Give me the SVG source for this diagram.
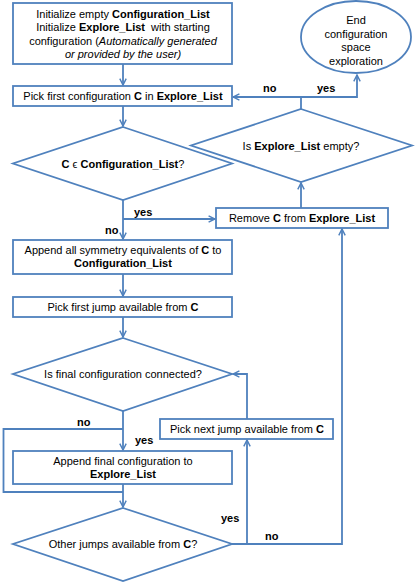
<svg xmlns="http://www.w3.org/2000/svg" width="415" height="585" viewBox="0 0 415 585">
<defs>
<marker id="ah" viewBox="0 0 10 10" refX="9" refY="5" markerWidth="8" markerHeight="8" markerUnits="userSpaceOnUse" orient="auto">
<path d="M1,1 L9,5 L1,9" fill="none" stroke="#4F81BD" stroke-width="1.8"/>
</marker>
<style>
.n{fill:#fff;stroke:#4F81BD;stroke-width:1.8}
.c{fill:none;stroke:#4F81BD;stroke-width:1.8}
.a{marker-end:url(#ah)}
text{font-family:"Liberation Sans",Arial,sans-serif;font-size:11px;fill:#000}
.m{text-anchor:middle}
.b{font-weight:bold}
.i{font-style:italic}
</style>
</defs>
<rect width="415" height="585" fill="#fff"/>
<g id="connectors">
<line class="c a" x1="123" y1="64" x2="123" y2="85"/>
<line class="c a" x1="123" y1="106" x2="123" y2="126"/>
<polyline class="c a" points="301,109 301,97 233,97"/>
<polyline class="c a" points="301,97 357,97 357,75"/>
<line class="c" x1="123" y1="200" x2="123" y2="219"/>
<line class="c a" x1="123" y1="219" x2="123" y2="239"/>
<line class="c a" x1="123" y1="219" x2="215" y2="219"/>
<line class="c a" x1="301" y1="208" x2="301" y2="183"/>
<line class="c a" x1="123" y1="274" x2="123" y2="296"/>
<line class="c a" x1="123" y1="317" x2="123" y2="337"/>
<polyline class="c a" points="247,419 247,374 233,374"/>
<line class="c" x1="123" y1="411" x2="123" y2="429"/>
<line class="c a" x1="123" y1="429" x2="123" y2="450"/>
<polyline class="c" points="123,429 3.5,429 3.5,492 123,492"/>
<line class="c a" x1="123" y1="484" x2="123" y2="507"/>
<polyline class="c a" points="232,544 247,544 247,440"/>
<polyline class="c a" points="247,544 342,544 342,229"/>
<text class="b" x="263" y="92">no</text>
<text class="b" x="317" y="92">yes</text>
<text class="b" x="134" y="216">yes</text>
<text class="b" x="105" y="234">no</text>
<text class="b" x="77" y="426">no</text>
<text class="b" x="135" y="444">yes</text>
<text class="b" x="221" y="522">yes</text>
<text class="b" x="265" y="540">no</text>
</g>
<g id="init">
<rect class="n" x="13" y="3" width="219" height="61"/>
<text class="m" x="123" y="18">Initialize empty <tspan class="b">Configuration_List</tspan></text>
<text class="m" x="123" y="31">Initialize <tspan class="b">Explore_List</tspan>&#160; with starting</text>
<text class="m" x="123" y="45">configuration (<tspan class="i">Automatically generated</tspan></text>
<text class="m i" x="123" y="58">or provided by the user)</text>
</g>
<g id="end">
<ellipse class="n" cx="356" cy="37" rx="55" ry="36"/>
<text class="m" x="356" y="24">End</text>
<text class="m" x="356" y="37.5">configuration</text>
<text class="m" x="356" y="51">space</text>
<text class="m" x="356" y="64.5">exploration</text>
</g>
<g id="pickfirst">
<rect class="n" x="13" y="86" width="219" height="20"/>
<text class="m" x="123" y="100">Pick first configuration <tspan class="b">C</tspan> in <tspan class="b">Explore_List</tspan></text>
</g>
<g id="empty">
<polygon class="n" points="301,109 412,145.5 301,182 191,145.5"/>
<text class="m" x="301" y="149.5">Is <tspan class="b">Explore_List</tspan> empty?</text>
</g>
<g id="inlist">
<polygon class="n" points="123,127 232,163.5 123,200 13,163.5"/>
<text class="m" x="123" y="168"><tspan class="b">C</tspan> ϵ <tspan class="b">Configuration_List</tspan>?</text>
</g>
<g id="remove">
<rect class="n" x="216" y="208" width="172" height="20"/>
<text class="m" x="302" y="222">Remove <tspan class="b">C</tspan> from <tspan class="b">Explore_List</tspan></text>
</g>
<g id="append">
<rect class="n" x="13" y="240" width="219" height="34"/>
<text class="m" x="123" y="254">Append all symmetry equivalents of <tspan class="b">C</tspan> to</text>
<text class="m b" x="123" y="267">Configuration_List</text>
</g>
<g id="pickjump">
<rect class="n" x="13" y="297" width="219" height="20"/>
<text class="m" x="123" y="311">Pick first jump available from <tspan class="b">C</tspan></text>
</g>
<g id="connected">
<polygon class="n" points="123,338 232,374 123,411 13,374"/>
<text class="m" x="123" y="378">Is final configuration connected?</text>
</g>
<g id="nextjump">
<rect class="n" x="160" y="419" width="173" height="20"/>
<text class="m" x="247" y="433">Pick next jump available from <tspan class="b">C</tspan></text>
</g>
<g id="appendfinal">
<rect class="n" x="13" y="451" width="219" height="33"/>
<text class="m" x="123" y="465">Append final configuration to</text>
<text class="m b" x="123" y="478">Explore_List</text>
</g>
<g id="other">
<polygon class="n" points="123,508 232,544 123,581 13,544"/>
<text class="m" x="123" y="548">Other jumps available from <tspan class="b">C</tspan>?</text>
</g>
</svg>
